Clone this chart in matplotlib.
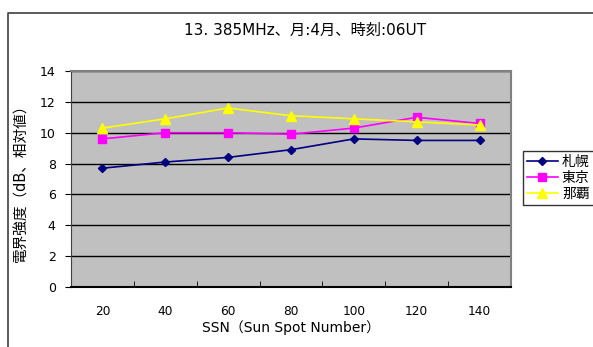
import matplotlib.pyplot as plt
from matplotlib.lines import Line2D

plt.rcParams['font.family'] = ['DejaVu Sans', 'Noto Sans CJK JP']

ssn = ["20", "40", "60", "80", "100", "120", "140"]
sapporo = [7.7, 8.1, 8.4, 8.9, 9.6, 9.5, 9.5]
tokyo = [9.6, 10.0, 10.0, 9.9, 10.3, 11.0, 10.6]
naha = [10.3, 10.9, 11.6, 11.1, 10.9, 10.7, 10.5]
series_names = ["札幌", "東京", "那覇"]
title = "13. 385MHz、月:4月、時刻:06UT"

W, H = 593, 347
fig = plt.figure(figsize=(W / 100, H / 100), dpi=100)
fig.patch.set_facecolor("white")

# chart area border, only top and left are inside the picture
fig.lines.append(Line2D([7.5 / W, 7.5 / W, 1.0], [0.0, 1 - 12.5 / H, 1 - 12.5 / H],
                        transform=fig.transFigure, color="#404040", linewidth=1.2))

ax = fig.add_axes([71 / W, 1 - 287 / H, 440 / W, 216 / H])
ax.set_facecolor("#C0C0C0")

ax.plot(ssn, sapporo, color="#000080", marker="D", markersize=4.5, linewidth=1.2, label=series_names[0])
ax.plot(ssn, tokyo, color="#FF00FF", marker="s", markersize=6, linewidth=1.2, label=series_names[1])
ax.plot(ssn, naha, color="#FFFF00", marker="^", markersize=6.5, linewidth=1.2, label=series_names[2])

ax.set_xlim(-0.5, len(ssn) - 0.5)
ax.set_ylim(0, 14)
ax.set_yticks(range(0, 15, 2))
ax.yaxis.grid(True, color="black", linewidth=1.0)
ax.set_axisbelow(True)

ax.set_xticks([i + 0.5 for i in range(-1, len(ssn))], minor=True)
ax.set_xticks(range(len(ssn)))
ax.set_xticklabels(ssn)
ax.tick_params(axis="x", which="major", length=0, pad=13, labelsize=8.7)
ax.tick_params(axis="x", which="minor", direction="in", length=4, color="black")
ax.tick_params(axis="y", length=4, direction="out", labelsize=9, pad=7)

for side in ["right", "top"]:
    ax.spines[side].set_color("#808080")
    ax.spines[side].set_linewidth(1.5)
ax.spines["left"].set_color("#404040")
ax.spines["bottom"].set_color("black")
ax.spines["bottom"].set_linewidth(1.5)

ax.set_xlabel("SSN（Sun Spot Number）", fontsize=10, labelpad=1.5)
ax.set_ylabel("電界強度（dB、相対値）", fontsize=10.5, labelpad=8)
fig.text(305 / W, 1 - 30 / H, title, ha="center", va="center", fontsize=11)

leg = ax.legend(loc="center left", bbox_to_anchor=(523 / W, 1 - 178 / H),
                bbox_transform=fig.transFigure, frameon=True, fancybox=False,
                fontsize=10, borderpad=0.3, labelspacing=0.15,
                handlelength=2.2, handletextpad=0.3, borderaxespad=0)
leg.get_frame().set_edgecolor("black")
leg.get_frame().set_linewidth(1.0)

fig.savefig("out.png", dpi=100)
